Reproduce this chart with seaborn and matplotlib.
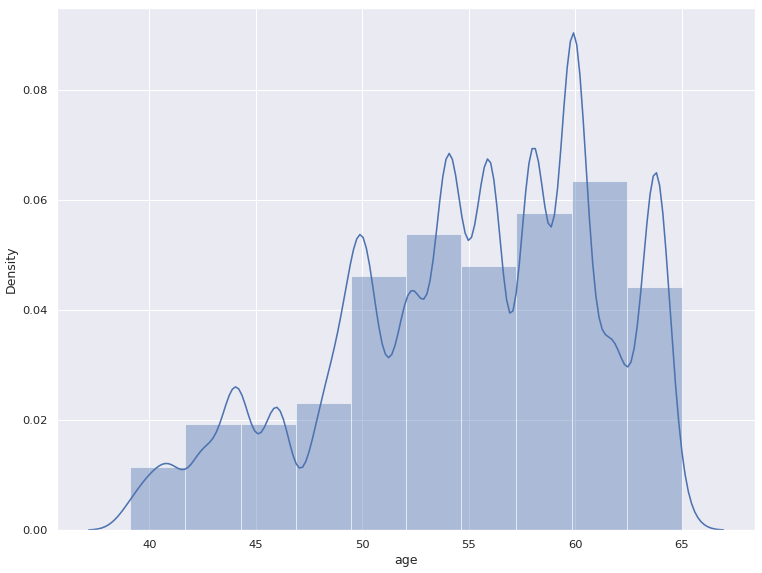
import pandas as pd
import matplotlib
matplotlib.use("Agg")
import matplotlib.pyplot as plt
import seaborn as sns

ages = [39.1, 40.0, 41.0, 42.5, 43.9, 44.5, 46.0, 48.0, 49.0, 50.0, 51.0, 52.0,
        52.5, 54.0, 55.0, 56.0, 58.0, 59.6, 60.0, 61.5, 62.0, 63.0, 63.8, 65.0]
counts = [1, 2, 3, 4, 6, 3, 7, 5, 7, 14, 4, 6,
          8, 20, 5, 20, 22, 8, 22, 6, 5, 2, 20, 1]

df = pd.DataFrame({"age": ages, "n": counts})
df = df.loc[df.index.repeat(df["n"])].reset_index(drop=True)

sns.set_theme(style="darkgrid")
fig, ax = plt.subplots(figsize=(10.16, 7.64), dpi=75)
sns.histplot(data=df, x="age", stat="density", bins=10, kde=True,
             kde_kws={"bw_adjust": 0.3, "cut": 3},
             alpha=0.4, edgecolor="white", linewidth=0.5,
             line_kws={"linewidth": 1.5}, ax=ax)
ax.set_xlabel("age")
ax.set_ylabel("Density")
fig.subplots_adjust(left=0.075, right=0.991, top=0.986, bottom=0.075)
fig.savefig("out.png")
